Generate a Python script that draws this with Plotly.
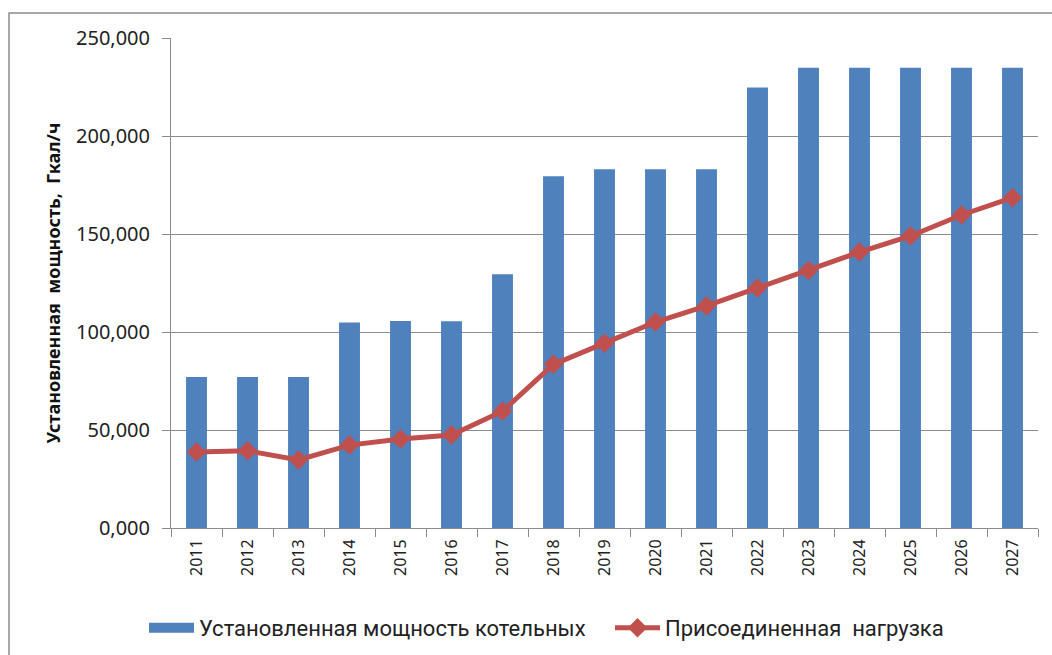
import plotly.graph_objects as go

years = [str(y) for y in range(2011, 2028)]
capacity = [77.0, 77.0, 77.0, 104.8, 105.6, 105.5, 129.5, 179.5, 183.0, 183.0, 183.0,
            224.8, 234.8, 234.8, 234.8, 234.8, 234.8]
load = [38.8, 39.4, 34.7, 42.3, 45.4, 47.4, 59.6, 83.5, 94.3, 105.1, 113.3,
        122.4, 131.4, 140.8, 149.0, 159.7, 168.5]

bar_name = "Установленная мощность котельных"
line_name = "Присоединенная  нагрузка"
y_title = "Установленная  мощность,  Гкал/ч"

FONT = "Noto Sans"
LEG_FONT = "Roboto"
BLUE = "#4F81BD"
RED = "#C0504D"
TXT = "#222222"

L, R, T, B = 171, 14, 38, 127
W, H = 1052, 655
PW, PH = W - L - R, H - T - B


def px_x(px):
    return (px - L) / PW


def px_y(py):
    return (H - B - py) / PH


fig = go.Figure()
fig.add_trace(go.Bar(x=years, y=capacity, name=bar_name, showlegend=False,
                     marker=dict(color=BLUE, line=dict(width=0))))
# legend proxy for the bar series (wide swatch like the original)
fig.add_trace(go.Scatter(x=[years[0]], y=[None], name=bar_name, mode="lines",
                         line=dict(color=BLUE, width=10), legend="legend"))
fig.add_trace(go.Scatter(x=years, y=load, name=line_name, mode="lines+markers",
                         line=dict(color=RED, width=5),
                         marker=dict(symbol="diamond", size=15, color=RED),
                         legend="legend2"))

leg_common = dict(orientation="h", yanchor="middle", xanchor="left",
                  font=dict(family=LEG_FONT, size=22, color=TXT),
                  bgcolor="rgba(0,0,0,0)", itemwidth=45)

fig.update_layout(
    width=W, height=H,
    margin=dict(l=L, r=R, t=T, b=B, autoexpand=False),
    paper_bgcolor="white", plot_bgcolor="white",
    font=dict(family=FONT, size=15, color=TXT),
    bargap=0.59,
    showlegend=True,
    legend=dict(x=px_x(144), y=px_y(628), **leg_common),
    legend2=dict(x=px_x(610), y=px_y(628), **leg_common),
    separators=", ",
)
fig.update_yaxes(range=[0, 250], tickvals=[0, 50, 100, 150, 200, 250], tickformat=".3f",
                 showgrid=True, gridcolor="#8C8C8C", gridwidth=1,
                 showline=True, linecolor="#8C8C8C", linewidth=1,
                 ticks="outside", ticklen=8, tickcolor="#8C8C8C", ticklabelstandoff=8,
                 tickfont=dict(size=20, color=TXT),
                 title=dict(text=y_title, font=dict(size=18, color="#111111", weight="bold"), standoff=10),
                 zeroline=False, automargin=False)
fig.update_xaxes(type="category", range=[-0.5, len(years) - 0.5], tickangle=-90, tickson="boundaries",
                 showline=True, linecolor="#8C8C8C", linewidth=1,
                 ticks="outside", ticklen=8, tickcolor="#8C8C8C", ticklabelstandoff=4,
                 tickfont=dict(size=16, color=TXT), showgrid=False, automargin=False)

fig.add_shape(type="rect", xref="paper", yref="paper",
              x0=px_x(9), x1=px_x(1060), y0=px_y(670), y1=px_y(13),
              line=dict(color="#8C8C8C", width=1.5), fillcolor="rgba(0,0,0,0)", layer="below")

fig.write_html("out.html", config={"responsive": False, "displayModeBar": False},
               post_script="document.body.style.margin='0';document.body.style.overflow='hidden';")
